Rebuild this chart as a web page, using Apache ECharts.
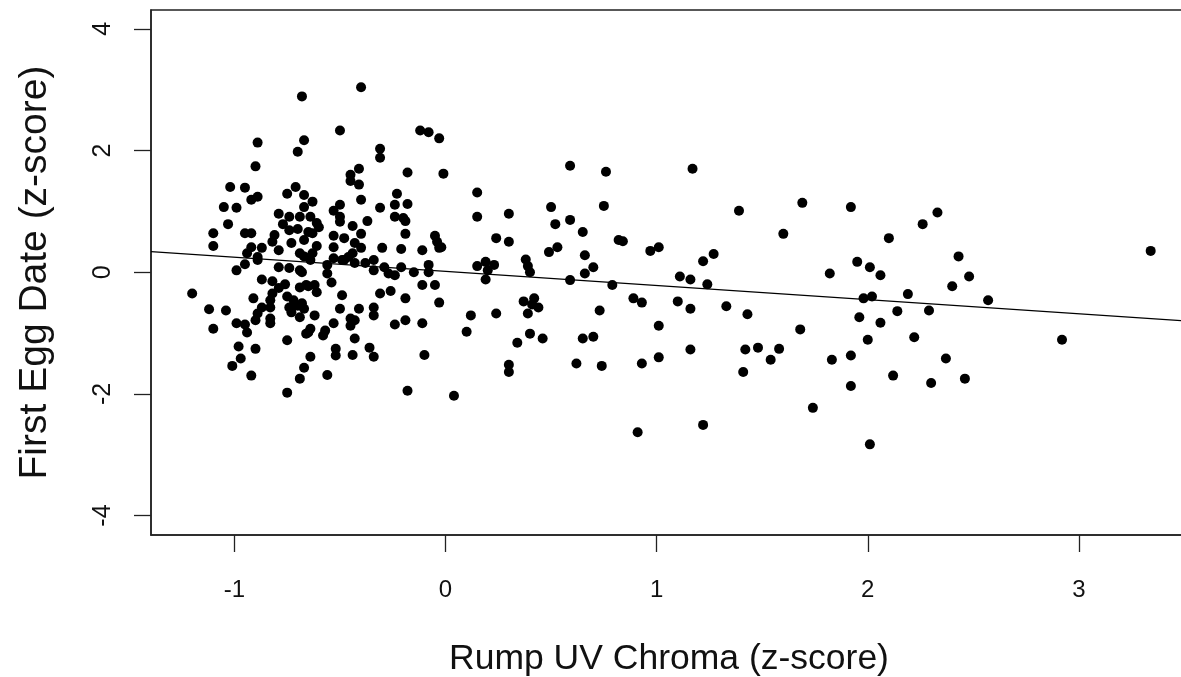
<!DOCTYPE html>
<html>
<head>
<meta charset="utf-8">
<script src="https://cdn.jsdelivr.net/npm/echarts@6/dist/echarts.min.js"></script>
<style>
  html, body { margin: 0; padding: 0; background: #fff; }
  #chart { width: 1181px; height: 677px; }
</style>
</head>
<body>
<div id="chart"></div>
<script>
// rump UV chroma (z-score), one entry per female
var chroma = [
  -0.68, -0.67, -0.70, -0.89, -0.90, -1.02, -0.95, -0.92, -0.89, -0.71,
  -0.75, -0.67, -1.05, -0.99, -1.03, -1.10, -1.10, -0.95, -0.92, -0.79,
  -0.74, -0.69, -0.67, -0.77, -0.74, -0.81, -0.82, -0.70, -0.67, -0.65,
  -0.79, -0.73, -0.69, -0.92, -0.87, -0.94, -0.89, -0.95, -0.99, -0.79,
  -0.74, -0.69, -0.89, -1.20, -0.87, -0.82, -0.76, -0.79, -0.82, -0.69,
  -0.65, -0.91, -0.83, -0.83, -0.75, -0.72, -0.74, -0.70, -0.67, -0.87,
  -0.89, -0.90, -1.12, -1.04, -1.10, -0.99, -0.95, -0.94, -0.83, -0.83,
  -0.73, -0.69, -0.66, -0.75, -0.98, -0.90, -0.97, -1.01, -0.92, -0.67,
  -0.69, -0.64, -0.75,
  -0.40, -0.50, -0.12, -0.08, -0.03, -0.31, -0.31, -0.18, -0.01, -0.41,
  -0.45, -0.45, -0.41, -0.40, -0.31, -0.23, -0.24, -0.18, -0.63, -0.50,
  -0.53, -0.50, -0.50, -0.24, -0.20, -0.19, -0.37, -0.44, -0.64, -0.61,
  -0.60, -0.63, -0.53, -0.48, -0.40, -0.19, -0.05, -0.04, -0.03, -0.30,
  -0.21, -0.11, -0.53, -0.61, -0.63, -0.43, -0.40, -0.44, -0.46, -0.67,
  -0.56, -0.53, -0.48, -0.43, -0.38, -0.34, -0.29, -0.21, -0.08,
  -0.64, -0.56, -0.54, -0.49, -0.34, -0.27, -0.24, -0.15, -0.08, -0.68,
  -0.66, -0.62, -0.61, -0.68, -0.49, -0.31, -0.26, -0.11, -0.05, -0.19,
  -0.03, -0.50, -0.41, -0.34, -0.34, -0.62, -0.45, -0.45, -0.43, -0.53,
  -0.65, -0.64, -0.57, -0.58, -0.24, -0.19, -0.11, -0.43, -0.52, -0.52,
  -0.44, -0.36, -0.34, -0.10, -0.56, -0.18, 0.04,
  0.59, 0.76, 0.15, 0.15, 0.30, 0.50, 0.52, 0.59, 0.75, 0.65,
  0.24, 0.30, 0.49, 0.53, 0.66, 0.82, 0.84, 0.97, 1.01, -0.02,
  0.15, 0.19, 0.23, 0.20, 0.19, 0.38, 0.39, 0.40, 0.70, 0.66,
  0.59, 0.79, 0.37, 0.42, 0.41, 0.44, 0.39, 0.12, 0.24, 0.73,
  0.89, 0.93, 0.10, 0.34, 0.40, 0.46, 0.65, 0.70, 1.01, 1.01,
  0.30, 0.30, 0.62, 0.74, 0.93,
  1.17, 1.39, 1.69, 1.92, 1.60, 2.10, 1.22, 1.27, 1.11, 1.16,
  1.24, 1.82, 1.95, 2.01, 2.06, 1.98, 2.02, 1.10, 1.16, 1.33,
  1.43, 1.96, 2.06, 2.14, 1.68, 2.00, 1.16, 1.42, 1.48, 1.54,
  1.58, 1.41, 1.83, 1.92, 1.92, 2.12, 1.74, 1.22, 0.91, 2.01,
  2.33, 2.26, 2.43, 2.48, 2.40, 2.19, 2.57, 2.29, 3.34, 2.22,
  2.92, 2.37, 2.30, 2.46
];

// first egg date (z-score), same order as chroma
var eggDate = [
  2.89, 2.17, 1.98, 2.13, 1.74, 1.40, 1.39, 1.19, 1.24, 1.40,
  1.29, 1.27, 1.07, 1.06, 0.79, 0.64, 0.43, 0.64, 0.64, 0.96,
  0.91, 0.91, 1.07, 0.79, 0.69, 0.61, 0.50, 0.71, 0.53, 0.66,
  0.36, 0.48, 0.31, 0.41, 0.40, 0.31, 0.25, 0.13, 0.03, 0.08,
  0.07, 0.03, 0.20, -0.35, -0.12, -0.15, -0.20, -0.26, -0.35, -0.25,
  -0.23, -0.43, -0.46, -0.58, -0.40, -0.46, -0.58, -0.55, -0.60, -0.58,
  -0.68, -0.79, -0.61, -0.63, -0.93, -0.84, -0.86, -0.99, -0.76, -0.84,
  -0.66, -0.74, -1.01, -1.12, -1.22, -1.26, -1.42, -1.54, -1.70, -1.57,
  -1.75, -1.39, -1.98,
  3.04, 2.33, 2.33, 2.30, 2.20, 2.03, 1.88, 1.64, 1.62, 1.70,
  1.60, 1.50, 1.44, 1.19, 1.06, 1.29, 1.11, 1.12, 1.16, 1.11,
  1.01, 0.91, 0.83, 0.91, 0.89, 0.84, 0.84, 0.76, 0.91, 0.81,
  0.74, 0.64, 0.60, 0.56, 0.63, 0.63, 0.60, 0.50, 0.40, 0.40,
  0.38, 0.36, 0.41, 0.43, 0.31, 0.48, 0.40, 0.31, 0.25, 0.26,
  0.12, 0.23, 0.20, 0.15, 0.15, 0.20, 0.08, 0.08, 0.12,
  0.20, -0.02, -0.17, 0.20, 0.03, -0.02, -0.05, 0.00, 0.00, 0.00,
  -0.21, -0.21, -0.33, -0.51, -0.38, -0.35, -0.31, -0.21, -0.21, -0.43,
  -0.50, -0.60, -0.60, -0.58, -0.71, -0.71, -0.76, -0.88, -0.79, -0.84,
  -0.99, -0.93, -0.96, -1.04, -0.86, -0.79, -0.84, -1.09, -1.26, -1.37,
  -1.36, -1.24, -1.39, -1.36, -1.69, -1.95, -2.03,
  1.75, 1.65, 1.31, 0.91, 0.96, 1.07, 0.79, 0.86, 1.09, 0.66,
  0.56, 0.50, 0.33, 0.41, 0.28, 0.53, 0.51, 0.35, 0.41, 0.41,
  0.10, 0.17, 0.12, 0.03, -0.12, 0.21, 0.10, 0.00, 0.08, -0.02,
  -0.13, -0.21, -0.48, -0.43, -0.53, -0.58, -0.68, -0.71, -0.68, -0.63,
  -0.43, -0.50, -0.98, -1.16, -1.01, -1.09, -1.09, -1.06, -0.88, -1.40,
  -1.52, -1.64, -1.50, -1.54, -1.50,
  1.70, 1.01, 1.14, 1.07, 0.63, 0.56, 0.18, 0.30, -0.07, -0.12,
  -0.20, -0.02, 0.17, 0.08, -0.05, -0.43, -0.40, -0.48, -0.60, -0.56,
  -0.69, -0.74, -0.83, -0.64, -0.94, -1.11, -1.27, -1.27, -1.24, -1.44,
  -1.26, -1.64, -1.44, -1.37, -1.87, -1.70, -2.23, -2.51, -2.63, -2.83,
  0.98, 0.79, 0.26, -0.07, -0.23, -0.36, -0.46, -0.63, 0.35, -1.07,
  -1.11, -1.42, -1.82, -1.75
];

// least-squares fit drawn over the points
var fitIntercept = 0.013;
var fitSlope = -0.232;

var xTicks = [-1, 0, 1, 2, 3];
var yTicks = [-4, -2, 0, 2, 4];
var xRange = [-1.395, 3.512];
var yRange = [-4.32, 4.31];

var points = chroma.map(function (x, i) { return [x, eggDate[i]]; });
var fitLine = xRange.map(function (x) { return [x, fitIntercept + fitSlope * x]; });

var font = '"Liberation Sans", Arial, Helvetica, sans-serif';
var ink = '#222';

var chart = echarts.init(document.getElementById('chart'));
chart.setOption({
    animation: false,
    grid: {
        left: 151, top: 10, width: 1036, height: 525,
        outerBoundsMode: 'none', containLabel: false,
        show: true, borderColor: ink, borderWidth: 1.5, backgroundColor: '#fff'
    },
    xAxis: {
        type: 'value', min: xRange[0], max: xRange[1],
        name: 'Rump UV Chroma (z-score)',
        nameLocation: 'middle', nameGap: 106,
        nameTextStyle: { fontFamily: font, fontSize: 35.5, color: '#111' },
        axisLine: { show: true, onZero: false, lineStyle: { color: ink, width: 1.5 } },
        axisTick: { show: true, inside: false, length: 17, customValues: xTicks, lineStyle: { color: ink, width: 1.3 } },
        axisLabel: { customValues: xTicks, margin: 43, fontFamily: font, fontSize: 24, color: '#111' },
        splitLine: { show: false }
    },
    yAxis: {
        type: 'value', min: yRange[0], max: yRange[1],
        name: 'First Egg Date (z-score)',
        nameLocation: 'middle', nameGap: 96, nameRotate: 90,
        nameTextStyle: { fontFamily: font, fontSize: 39, color: '#111' },
        axisLine: { show: true, onZero: false, lineStyle: { color: ink, width: 1.5 } },
        axisTick: { show: true, inside: false, length: 17, customValues: yTicks, lineStyle: { color: ink, width: 1.3 } },
        axisLabel: { customValues: yTicks, rotate: 90, margin: 35, fontFamily: font, fontSize: 25, color: '#111' },
        splitLine: { show: false }
    },
    series: [
        {
            type: 'scatter', data: points, symbol: 'circle', symbolSize: 10,
            itemStyle: { color: '#000', opacity: 1 }, z: 3
        },
        {
            type: 'line', data: fitLine, symbol: 'none',
            lineStyle: { color: '#000', width: 1.3 }, z: 4
        }
    ]
});
</script>
</body>
</html>
